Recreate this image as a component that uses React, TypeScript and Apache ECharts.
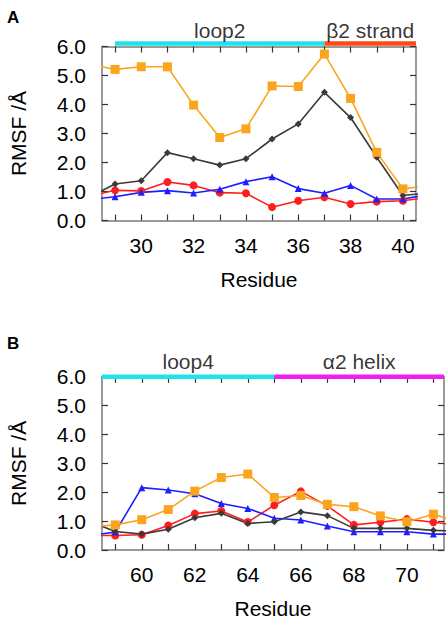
import React, { useEffect, useRef } from "react";
import * as echarts from "echarts";

// Panel A (residues 28..41, plotted 28.5..40.5)
const residuesA = [28, 29, 30, 31, 32, 33, 34, 35, 36, 37, 38, 39, 40, 41];
const orangeA = [5.4, 5.21, 5.3, 5.3, 3.98, 2.86, 3.16, 4.64, 4.62, 5.74, 4.21, 2.35, 1.09, 1.2];
const blackA = [0.8, 1.26, 1.37, 2.34, 2.13, 1.91, 2.13, 2.81, 3.33, 4.42, 3.55, 2.18, 0.86, 0.95];
const redA = [0.84, 1.04, 1.02, 1.33, 1.21, 0.96, 0.94, 0.46, 0.68, 0.8, 0.57, 0.65, 0.68, 0.8];
const blueA = [0.72, 0.82, 0.97, 1.03, 0.95, 1.08, 1.34, 1.51, 1.1, 0.94, 1.21, 0.74, 0.74, 0.9];

// Panel B (residues 58..72, plotted 58.5..71.4)
const residuesB = [58, 59, 60, 61, 62, 63, 64, 65, 66, 67, 68, 69, 70, 71, 72];
const orangeB = [0.8, 0.87, 1.05, 1.4, 2.04, 2.51, 2.63, 1.82, 1.89, 1.58, 1.5, 1.18, 0.98, 1.24, 0.95];
const blueB = [0.5, 0.62, 2.16, 2.08, 1.95, 1.61, 1.44, 1.1, 1.04, 0.83, 0.63, 0.63, 0.63, 0.55, 0.55];
const redB = [0.5, 0.5, 0.53, 0.85, 1.26, 1.35, 0.97, 1.55, 2.03, 1.53, 0.87, 0.96, 1.07, 0.96, 0.85];
const blackB = [1.0, 0.64, 0.55, 0.72, 1.12, 1.27, 0.92, 0.98, 1.32, 1.19, 0.75, 0.75, 0.75, 0.68, 0.65];

// Secondary-structure regions
const regionNamesA = ["loop2", "β2 strand"];
const regionStartA = [29, 37];
const regionEndA = [37, 40.5];
const regionNamesB = ["loop4", "α2 helix"];
const regionStartB = [58.5, 65];
const regionEndB = [65, 71.4];

// Tick values
const xTicksA = [29, 30, 31, 32, 33, 34, 35, 36, 37, 38, 39, 40];
const xLabelsA = [30, 32, 34, 36, 38, 40];
const xTicksB = [59, 60, 61, 62, 63, 64, 65, 66, 67, 68, 69, 70, 71];
const xLabelsB = [60, 62, 64, 66, 68, 70];

const FONT = "'Liberation Sans', Arial, Helvetica, sans-serif";
const AXIS_COLOR = "#7a7a7a";
const TEXT_COLOR = "#000";
const C_ORANGE = "#FBA51E";
const C_BLACK = "#3a3a3a";
const C_RED = "#FF1E1E";
const C_BLUE = "#1E1EFF";
const REGION_COLORS_A = ["#1FE3EA", "#FF4A17"];
const REGION_COLORS_B = ["#1FE3EA", "#F21EF0"];

const zip = (xs: number[], ys: number[]) => xs.map((x, i) => [x, ys[i]]);

function App() {
  const ref = useRef<HTMLDivElement>(null);
  useEffect(() => {
    document.body.style.margin = "0";
    if (!ref.current) return;
    const chart = echarts.init(ref.current, null, { renderer: "svg" });

    const bottomX = (grid: number, min: number, max: number, ticks: number[], labels: number[]) => ({
      type: "value",
      gridIndex: grid,
      position: "bottom",
      min,
      max,
      name: "Residue",
      nameLocation: "middle",
      nameGap: 48,
      nameTextStyle: { fontSize: 21, color: TEXT_COLOR, fontFamily: FONT },
      splitLine: { show: false },
      axisLine: { show: true, onZero: false, lineStyle: { color: AXIS_COLOR, width: 1.5 } },
      axisTick: { show: true, inside: true, length: 6, customValues: ticks, lineStyle: { color: "#333", width: 1.2 } },
      axisLabel: { show: true, customValues: labels, margin: 14, fontSize: 21, color: TEXT_COLOR, fontFamily: FONT },
    });
    const topX = (grid: number, min: number, max: number, ticks: number[]) => ({
      type: "value",
      gridIndex: grid,
      position: "top",
      min,
      max,
      splitLine: { show: false },
      axisLine: { show: true, onZero: false, lineStyle: { color: AXIS_COLOR, width: 1.5 } },
      axisTick: { show: true, inside: true, length: 6, customValues: ticks, lineStyle: { color: "#333", width: 1.2 } },
      axisLabel: { show: false },
    });
    const leftY = (grid: number) => ({
      type: "value",
      gridIndex: grid,
      position: "left",
      min: 0,
      max: 6,
      interval: 1,
      name: "RMSF /Å",
      nameLocation: "middle",
      nameRotate: 90,
      nameGap: 73,
      nameTextStyle: { fontSize: 21, color: TEXT_COLOR, fontFamily: FONT },
      splitLine: { show: false },
      axisLine: { show: true, lineStyle: { color: AXIS_COLOR, width: 1.5 } },
      axisTick: { show: true, inside: true, length: 6, lineStyle: { color: "#333", width: 1.2 } },
      axisLabel: { margin: 16, fontSize: 21, color: TEXT_COLOR, fontFamily: FONT, formatter: (v: number) => v.toFixed(1) },
    });
    const rightY = (grid: number) => ({
      type: "value",
      gridIndex: grid,
      position: "right",
      min: 0,
      max: 6,
      interval: 1,
      splitLine: { show: false },
      axisLine: { show: true, lineStyle: { color: AXIS_COLOR, width: 1.5 } },
      axisTick: { show: true, inside: true, length: 6, lineStyle: { color: "#333", width: 1.2 } },
      axisLabel: { show: false },
    });

    const dataSeries = (xi: number, yi: number, xs: number[], sets: { d: number[]; c: string; s: string; size: number }[]) =>
      sets.map((o) => ({
        type: "line",
        xAxisIndex: xi,
        yAxisIndex: yi,
        data: zip(xs, o.d),
        symbol: o.s,
        symbolSize: o.size,
        showSymbol: true,
        lineStyle: { color: o.c, width: 1.6 },
        itemStyle: { color: o.c },
        clip: true,
        z: 3,
      }));

    const regionSeries = (xi: number, yi: number, names: string[], starts: number[], ends: number[], colors: string[], level: number, dist: number) => {
      const out: any[] = [];
      names.forEach((n, i) => {
        out.push({
          type: "line",
          xAxisIndex: xi,
          yAxisIndex: yi,
          data: [[starts[i], level], [ends[i], level]],
          symbol: "none",
          lineStyle: { color: colors[i], width: 4.5 },
          clip: false,
          z: 6,
        });
        out.push({
          type: "scatter",
          xAxisIndex: xi,
          yAxisIndex: yi,
          data: [[(starts[i] + ends[i]) / 2, level]],
          symbolSize: 1,
          itemStyle: { color: "rgba(0,0,0,0)" },
          label: {
            show: true,
            position: "top",
            distance: dist,
            formatter: n,
            fontSize: 21,
            color: TEXT_COLOR,
            fontFamily: FONT,
          },
          clip: false,
          z: 6,
        });
      });
      return out;
    };

    const setsA = [
      { d: redA, c: C_RED, s: "circle", size: 8 },
      { d: blueA, c: C_BLUE, s: "triangle", size: 7 },
      { d: blackA, c: C_BLACK, s: "diamond", size: 7 },
      { d: orangeA, c: C_ORANGE, s: "rect", size: 9 },
    ];
    const setsB = [
      { d: redB, c: C_RED, s: "circle", size: 8 },
      { d: blueB, c: C_BLUE, s: "triangle", size: 7 },
      { d: blackB, c: C_BLACK, s: "diamond", size: 7 },
      { d: orangeB, c: C_ORANGE, s: "rect", size: 9 },
    ];

    chart.setOption({
      animation: false,
      backgroundColor: "#ffffff",
      title: [
        { text: "A", left: 2, top: 4, textStyle: { fontSize: 17, fontWeight: "bold", color: TEXT_COLOR, fontFamily: FONT } },
        { text: "B", left: 2, top: 330, textStyle: { fontSize: 17, fontWeight: "bold", color: TEXT_COLOR, fontFamily: FONT } },
      ],
      grid: [
        { left: 96, top: 46.5, width: 320, height: 174, containLabel: false },
        { left: 96, top: 376.8, width: 348, height: 175.2, containLabel: false },
      ],
      xAxis: [
        bottomX(0, 28.5, 40.5, xTicksA, xLabelsA),
        topX(0, 28.5, 40.5, xTicksA),
        bottomX(1, 58.5, 71.4, xTicksB, xLabelsB),
        topX(1, 58.5, 71.4, xTicksB),
      ],
      yAxis: [leftY(0), rightY(0), leftY(1), rightY(1)],
      series: [
        ...dataSeries(0, 0, residuesA, setsA),
        ...dataSeries(2, 2, residuesB, setsB),
        ...regionSeries(0, 0, regionNamesA, regionStartA, regionEndA, REGION_COLORS_A, 6.1, 2),
        ...regionSeries(2, 2, regionNamesB, regionStartB, regionEndB, REGION_COLORS_B, 6.0, 4),
      ],
    });
    return () => chart.dispose();
  }, []);
  return <div ref={ref} style={{ width: 448, height: 620 }} />;
}

export default App;
